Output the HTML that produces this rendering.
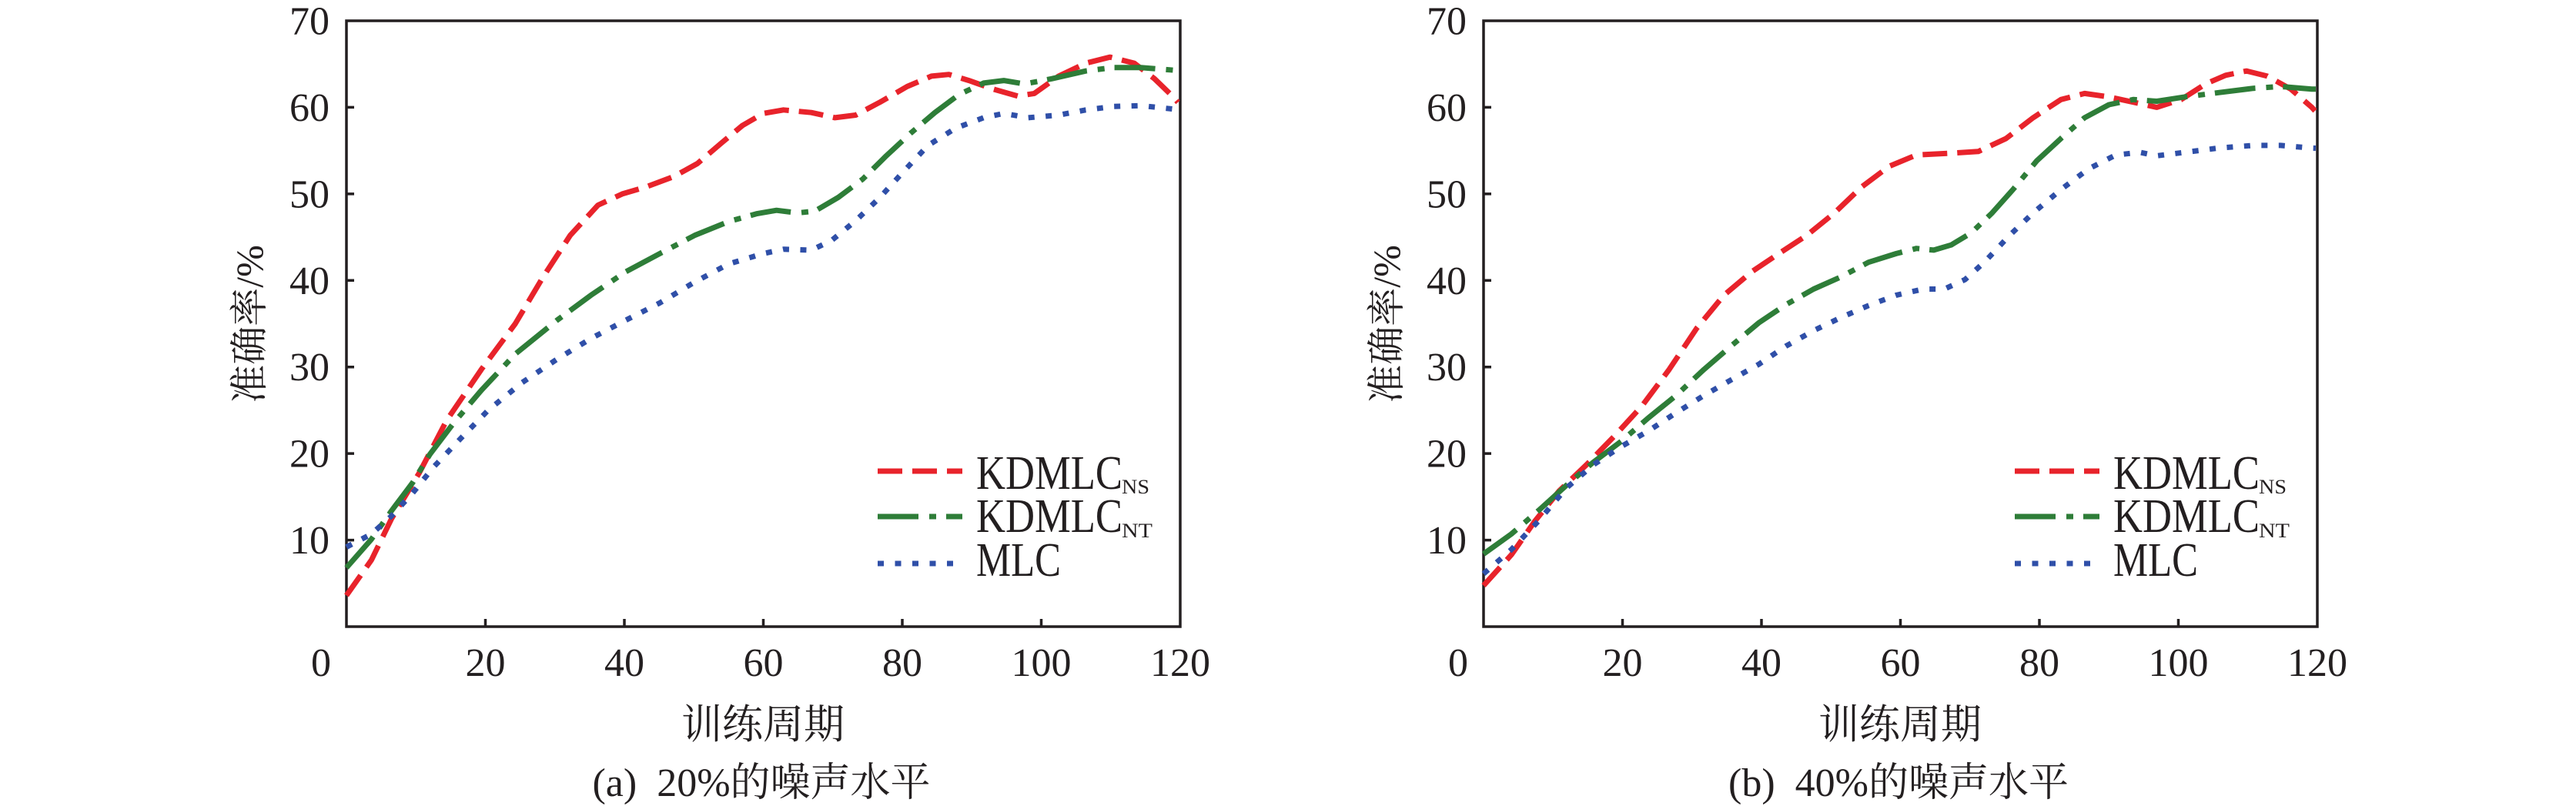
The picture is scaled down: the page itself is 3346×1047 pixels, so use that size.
<!DOCTYPE html>
<html><head><meta charset="utf-8"><style>
html,body{margin:0;padding:0;background:#fff;}
svg{display:block;}
text{font-family:"Liberation Serif","Noto Serif CJK SC",serif;fill:#231f20;}
</style></head><body>
<svg width="3346" height="1047" viewBox="0 0 3346 1047" xmlns="http://www.w3.org/2000/svg">
<rect width="3346" height="1047" fill="#fff"/>
<defs>
<g id="axes">
  <g stroke="#231f20" stroke-width="3.5" fill="none">
    <rect x="450" y="27" width="1083" height="787"/>
    <path d="M450 701.6h10M450 589.1h10M450 476.7h10M450 364.3h10M450 251.9h10M450 139.4h10"/>
    <path d="M630.5 814v-10M811 814v-10M991.5 814v-10M1172 814v-10M1352.5 814v-10"/>
  </g>
  <g font-size="52" text-anchor="end">
    <text x="428" y="44.5">70</text>
    <text x="428" y="157">60</text>
    <text x="428" y="269.4">50</text>
    <text x="428" y="381.8">40</text>
    <text x="428" y="494.2">30</text>
    <text x="428" y="606.6">20</text>
    <text x="428" y="719.1">10</text>
  </g>
  <g font-size="52" text-anchor="middle">
    <text x="417" y="878">0</text>
    <text x="630.5" y="878">20</text>
    <text x="811" y="878">40</text>
    <text x="991.5" y="878">60</text>
    <text x="1172" y="878">80</text>
    <text x="1352.5" y="878">100</text>
    <text x="1533" y="878">120</text>
  </g>
  <text x="991" y="959" font-size="53" text-anchor="middle">训练周期</text>
  <text transform="translate(341,421) rotate(-90)" font-size="50" text-anchor="middle">准确率/%</text>
  <g stroke-width="7" fill="none">
    <path d="M1140 612H1250" stroke="#e8232b" stroke-dasharray="32 13"/>
    <path d="M1140 671H1250" stroke="#2e7d38" stroke-dasharray="53 14 9 13"/>
    <path d="M1140 732H1250" stroke="#2f4fa8" stroke-dasharray="8 14.5"/>
  </g>
  <text x="1268" y="635" font-size="62" textLength="190" lengthAdjust="spacingAndGlyphs">KDMLC</text>
  <text x="1457" y="641" font-size="26" textLength="36" lengthAdjust="spacingAndGlyphs">NS</text>
  <text x="1268" y="691" font-size="62" textLength="190" lengthAdjust="spacingAndGlyphs">KDMLC</text>
  <text x="1457" y="698" font-size="26" textLength="40" lengthAdjust="spacingAndGlyphs">NT</text>
  <text x="1268" y="748" font-size="62" textLength="110" lengthAdjust="spacingAndGlyphs">MLC</text>
</g>
</defs>

<use href="#axes"/>
<use href="#axes" transform="translate(1477,0)"/>

<text x="989" y="1034" font-size="52" text-anchor="middle" xml:space="preserve">(a)  20%的噪声水平</text>
<text x="2466" y="1034" font-size="52" text-anchor="middle" xml:space="preserve">(b)  40%的噪声水平</text>

<g fill="none" stroke-width="7" stroke-linejoin="round">
<!-- Left plot -->
<path stroke="#e8232b" stroke-dasharray="32 13" d="M450 773.5L482.5 727.4L508.7 673.5L544.8 613.9L580 546.4L625.1 480.1L669.3 420.5L705.4 359.8L740.6 305.8L776.7 266.5L808.3 251.9L839 242.9L875.1 229.4L905.8 212.5L937.4 185.5L964.4 163L991.5 147.3L1017.7 142.8L1053.8 146.2L1084.5 152.9L1111.5 149.5L1143.1 132.7L1178.3 112.4L1209.9 98.9L1232.5 96.7L1258.6 104.6L1290.2 115.8L1321.8 124.8L1343.5 121.4L1375.1 98.9L1410.3 82.1L1441.8 74.2L1473.4 82.1L1499.6 102.3L1524 125.9L1530 133"/>
<path stroke="#2e7d38" stroke-dasharray="53 14 9 13" d="M450 737.5L482.5 700.4L508.7 663.3L535.7 627.4L558.3 590.3L589 549.8L625.1 507.1L669.3 459.9L723.5 416L767.7 383.4L812.8 353L857 329.4L902.2 305.8L946.4 287.8L982.5 277.7L1008.6 273.2L1035.7 276.6L1058.3 274.3L1089 256.3L1120.6 232.7L1151.2 202.4L1182.8 173.1L1214.4 146.2L1246 122.6L1277.6 107.9L1303.8 104.6L1330.8 109.1L1366 102.3L1410.3 92.2L1446.4 87.7L1481.6 87.7L1524 91.1L1531 92.2"/>
<path stroke="#2f4fa8" stroke-dasharray="8 14.5" d="M450 710.6L482.5 693.7L508.7 670.1L535.7 640.9L562.8 607.1L598 570L634.1 532.9L678.3 496.9L723.5 466.6L767.7 439.6L812.8 416L857 393.5L902.2 366.5L946.4 342.9L991.5 329.4L1017.7 323.8L1053.8 324.9L1079.9 312.6L1111.5 286.7L1143.1 256.3L1173.8 222.6L1205.4 188.9L1241.5 166.4L1277.6 152.9L1303.8 147.3L1335.4 152.9L1375.1 149.5L1410.3 142.8L1446.4 138.3L1481.6 137.2L1524 141.7L1531 142.5"/>
<!-- Right plot -->
<path stroke="#e8232b" stroke-dasharray="32 13" d="M1927 760.6L1963.1 720.7L1993.8 676.8L2025.4 637.5L2060.6 603.8L2096.7 566.7L2132.8 527.3L2168 480.1L2204.1 426.1L2239.3 383.4L2275.4 353L2310.6 329.4L2346.7 305.8L2382.8 276.6L2418 242.9L2454.1 215.9L2489.3 201.3L2534.4 199L2569.6 196.8L2605.7 179.9L2640.9 152.9L2677 129.3L2707.7 121.4L2739.3 125.9L2770.8 132.7L2801.5 139.4L2833.1 129.3L2864.7 109.1L2890.9 97.8L2918 92.2L2945 98.9L2975.7 115.8L3002.8 139.4L3007 144"/>
<path stroke="#2e7d38" stroke-dasharray="53 14 9 13" d="M1927 719.6L1963.1 693.7L1998.3 663.3L2034.4 630.7L2069.6 600.4L2105.7 573.4L2140.9 543L2177 513.8L2213.1 480.1L2248.3 449.7L2284.4 419.4L2319.6 395.8L2355.7 375.5L2390.9 359.8L2427 340.7L2463.1 329.4L2489.3 322.7L2511.8 324.9L2534.4 318.2L2560.6 302.4L2587.6 276.6L2614.7 246.2L2645.4 209.1L2677 179.9L2707.7 152.9L2739.3 136L2770.8 129.3L2801.5 131.5L2837.6 125.9L2881.8 120.3L2927 114.7L2962.2 112.4L3002.8 115.8L3008 115.8"/>
<path stroke="#2f4fa8" stroke-dasharray="8 14.5" d="M1927 745.4L1963.1 713.9L1998.3 676.8L2034.4 634.1L2069.6 603.8L2105.7 580.1L2140.9 559.9L2177 536.3L2213.1 513.8L2248.3 493.6L2284.4 473.3L2319.6 449.7L2355.7 429.5L2390.9 412.6L2427 396.9L2463.1 383.4L2498.3 375.5L2525.4 375.5L2552.4 363.2L2578.6 339.5L2610.2 305.8L2640.9 276.6L2677 246.2L2713.1 219.2L2748.3 201.3L2779.9 197.9L2801.5 202.4L2837.6 197.9L2881.8 192.3L2927 188.9L2962.2 188.9L3002.8 192.3L3008 192.5"/>
</g>
</svg>
</body></html>
